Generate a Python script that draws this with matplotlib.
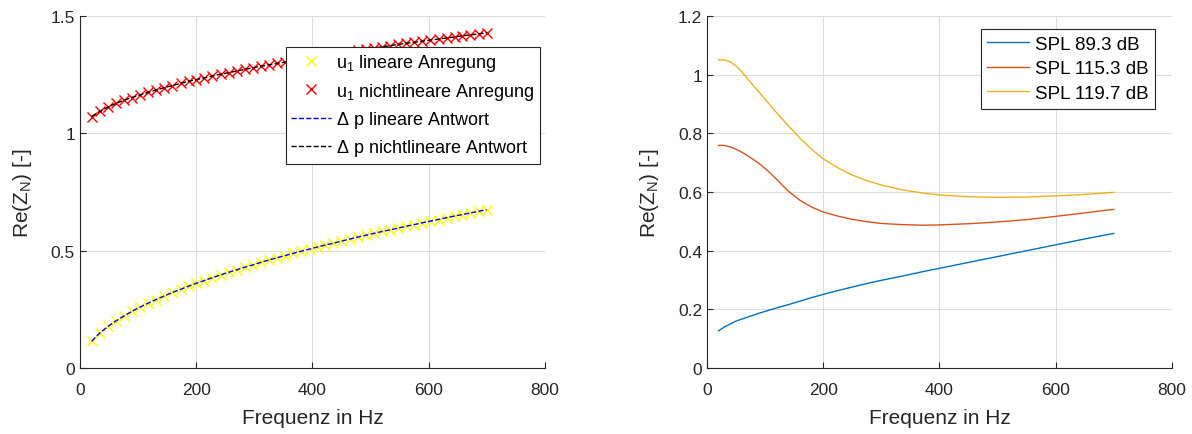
import matplotlib
matplotlib.use("Agg")
import matplotlib.pyplot as plt

plt.rcParams['font.family'] = ['Liberation Sans', 'DejaVu Sans']
plt.rcParams['mathtext.fontset'] = 'custom'
plt.rcParams['mathtext.rm'] = 'Liberation Sans'

# frequency grid of the excitation / response (Hz)
freq = [20, 34, 48, 62, 76, 89, 103, 117, 131, 145, 159, 173, 187, 200, 214,
        228, 242, 256, 270, 284, 298, 311, 325, 339, 353, 367, 381, 395, 409,
        422, 436, 450, 464, 478, 492, 506, 520, 534, 547, 561, 575, 589, 603,
        617, 631, 645, 658, 672, 686, 700]

u1_lin = [0.114, 0.149, 0.177, 0.201, 0.222, 0.241, 0.259, 0.276, 0.292, 0.307,
          0.322, 0.335, 0.349, 0.361, 0.373, 0.385, 0.397, 0.408, 0.419, 0.430,
          0.440, 0.450, 0.460, 0.470, 0.479, 0.489, 0.498, 0.507, 0.516, 0.524,
          0.532, 0.541, 0.549, 0.558, 0.566, 0.574, 0.582, 0.589, 0.596, 0.604,
          0.611, 0.619, 0.626, 0.633, 0.641, 0.648, 0.654, 0.661, 0.668, 0.675]

u1_nl = [1.072, 1.094, 1.112, 1.128, 1.141, 1.153, 1.164, 1.175, 1.185, 1.195,
         1.204, 1.213, 1.222, 1.229, 1.237, 1.245, 1.252, 1.259, 1.266, 1.273,
         1.280, 1.286, 1.292, 1.298, 1.304, 1.310, 1.316, 1.322, 1.328, 1.333,
         1.338, 1.344, 1.349, 1.354, 1.359, 1.364, 1.369, 1.374, 1.379, 1.384,
         1.388, 1.393, 1.398, 1.402, 1.407, 1.411, 1.416, 1.420, 1.424, 1.429]

dp_lin = u1_lin
dp_nl = u1_nl

# measured impedance for three sound pressure levels
f_spl = [20, 30, 40, 50, 60, 75, 90, 105, 120, 140, 160, 180, 200, 225, 250,
         275, 300, 335, 370, 400, 450, 500, 550, 600, 650, 700]
spl_893 = [0.127, 0.140, 0.150, 0.160, 0.167, 0.177, 0.187, 0.196, 0.205, 0.216,
           0.228, 0.240, 0.251, 0.264, 0.276, 0.288, 0.299, 0.313, 0.328, 0.340,
           0.360, 0.380, 0.400, 0.420, 0.440, 0.459]
spl_1153 = [0.759, 0.759, 0.754, 0.746, 0.736, 0.717, 0.697, 0.672, 0.643, 0.603,
            0.572, 0.549, 0.532, 0.518, 0.507, 0.499, 0.493, 0.489, 0.487, 0.488,
            0.492, 0.498, 0.506, 0.517, 0.529, 0.541]
spl_1197 = [1.051, 1.050, 1.044, 1.030, 1.010, 0.974, 0.940, 0.905, 0.870, 0.826,
            0.784, 0.746, 0.713, 0.683, 0.658, 0.639, 0.624, 0.608, 0.597, 0.590,
            0.584, 0.582, 0.583, 0.587, 0.592, 0.599]

fig = plt.figure(figsize=(11.92, 4.35), dpi=100)
ax1 = fig.add_axes([0.0671, 0.1517, 0.390, 0.809])
ax2 = fig.add_axes([0.5931, 0.1517, 0.390, 0.809])


def style(ax):
    ax.grid(True, color='#dcdcdc', linewidth=0.8)
    ax.set_axisbelow(True)
    for s in ['top', 'right']:
        ax.spines[s].set_visible(False)
    for s in ['left', 'bottom']:
        ax.spines[s].set_color('#262626')
        ax.spines[s].set_linewidth(0.8)
    ax.tick_params(direction='in', length=4, width=0.8, colors='#262626',
                   labelsize=12.5, labelcolor='#262626')
    ax.tick_params(axis='x', pad=10)
    ax.set_xlim(0, 800)
    ax.set_xticks([0, 200, 400, 600, 800])
    ax.set_xlabel('Frequenz in Hz', fontsize=15, color='#262626', labelpad=8)
    ax.set_ylabel(r'Re(Z$_\mathregular{N}$) [-]', fontsize=15, color='#262626',
                  labelpad=12)


ax1.plot(freq, u1_lin, 'x', color=(1, 1, 0), markersize=6.5, mew=1,
         label=r'u$_\mathregular{1}$ lineare Anregung')
ax1.plot(freq, u1_nl, 'x', color=(1, 0, 0), markersize=6.5, mew=1,
         label=r'u$_\mathregular{1}$ nichtlineare Anregung')
ax1.plot(freq, dp_lin, '--', color=(0, 0, 1), linewidth=1,
         label=r'$\Delta$ p lineare Antwort')
ax1.plot(freq, dp_nl, '--', color=(0, 0, 0), linewidth=1,
         label=r'$\Delta$ p nichtlineare Antwort')
style(ax1)
ax1.set_ylim(0, 1.5)
ax1.set_yticks([0, 0.5, 1, 1.5])
ax1.set_yticklabels(['0', '0.5', '1', '1.5'])
leg1 = ax1.legend(loc='upper right', bbox_to_anchor=(0.989, 0.912), fontsize=13,
                  fancybox=False, edgecolor='#262626', framealpha=1,
                  handlelength=2.2, borderpad=0.3, labelspacing=0.4,
                  handletextpad=0.25, borderaxespad=0)
leg1.get_frame().set_linewidth(0.8)

ax2.plot(f_spl, spl_893, color=(0, 0.447, 0.741), linewidth=1, label='SPL 89.3 dB')
ax2.plot(f_spl, spl_1153, color=(0.85, 0.325, 0.098), linewidth=1, label='SPL 115.3 dB')
ax2.plot(f_spl, spl_1197, color=(0.929, 0.694, 0.125), linewidth=1, label='SPL 119.7 dB')
style(ax2)
ax2.set_ylim(0, 1.2)
ax2.set_yticks([0, 0.2, 0.4, 0.6, 0.8, 1.0, 1.2])
ax2.set_yticklabels(['0', '0.2', '0.4', '0.6', '0.8', '1', '1.2'])
leg2 = ax2.legend(loc='upper right', bbox_to_anchor=(0.9634, 0.963), fontsize=13.5,
                  fancybox=False, edgecolor='#262626', framealpha=1,
                  handlelength=2.2, borderpad=0.35, labelspacing=0.4,
                  handletextpad=0.32, borderaxespad=0)
leg2.get_frame().set_linewidth(0.8)

plt.savefig('out.png', dpi=100)
